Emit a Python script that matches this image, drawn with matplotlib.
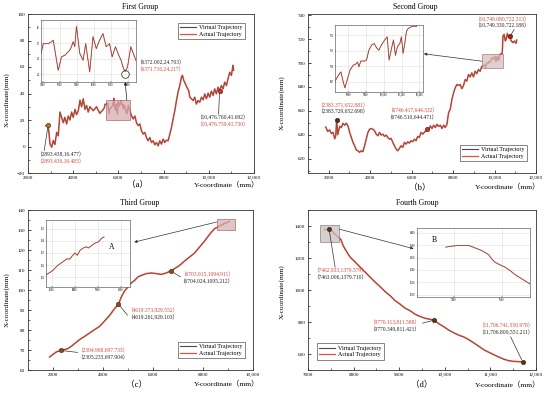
import matplotlib
matplotlib.use("Agg")
import matplotlib.pyplot as plt
from matplotlib.patches import Rectangle, ConnectionPatch
from matplotlib.lines import Line2D
from matplotlib.ticker import MultipleLocator, FuncFormatter

plt.rcParams['font.family'] = ['Liberation Serif', 'Noto Sans CJK SC']
plt.rcParams['axes.linewidth'] = 0.6

W, H = 550, 394
fig = plt.figure(figsize=(W / 100, H / 100), dpi=100)

# ---------------- DATA ----------------
# Panel (a) First Group  (Y-coordinate, X-coordinate)
a_y = [2783, 2870, 2893.438, 2973, 3050, 3120, 3190, 3270, 3340, 3415, 3490, 3560, 3630, 3710, 3780,
       3855, 3930, 4000, 4080, 4150, 4225, 4300, 4370, 4445, 4520, 4590, 4665, 4740, 4890, 5030,
       5180, 5330,
       5380, 5407, 5466, 5505, 5524, 5583, 5622, 5661, 5700, 5719, 5739, 5758, 5778, 5798, 5837,
       5876, 5907, 5954, 5993, 6032, 6071, 6110, 6149, 6188, 6219, 6258, 6297, 6324, 6352, 6372.002,
       6400, 6439, 6490,
       6580, 6654, 6730, 6800, 6875, 6950, 7020, 7095, 7170, 7240, 7315, 7390, 7465, 7540, 7610,
       7685, 7760, 7830, 7905, 7980, 8050, 8125, 8200, 8275, 8350, 8420, 8495, 8570, 8640, 8715,
       8790, 8835, 8890, 8965, 9040, 9110, 9160, 9230, 9305, 9380, 9450, 9525, 9600, 9675, 9750,
       9820, 9895, 9970, 10040, 10115, 10190, 10260, 10335, 10410, 10476.760, 10555, 10630, 10705,
       10780, 10850, 10925, 11000, 11070, 11100]
a_x = [15.7, 15.5, 16.477, 2.0, -0.5, 4.5, 1.5, 10.7, 8.0, 26.0, 22.0, 18.0, 22.0, 17.0, 23.0,
       20.0, 26.0, 22.0, 28.0, 24.0, 27.0, 35.0, 30.0, 36.0, 28.0, 31.0, 26.0, 30.0, 27.0, 30.0,
       25.0, 28.0,
       29.4, 31.9, 31.9, 32.4, 32.8, 25.0, 28.5, 28.9, 29.8, 30.2, 31.1, 32.4, 31.1, 36.4, 29.4,
       27.6, 31.9, 24.6, 33.7, 30.6, 32.8, 34.5, 31.1, 31.9, 28.5, 31.1, 28.9, 27.6, 25.5, 24.703,
       25.9, 31.1, 28.1,
       23.3, 20.8, 23.0, 18.0, 15.7, 17.0, 12.0, 9.4, 10.6, 6.8, 4.3, 6.8, 3.0, 4.3, 1.3,
       3.0, 0.5, 4.3, 1.8, 5.6, 3.0, 4.8, 4.3, 9.4, 14.4, 20.8, 27.0, 34.7, 41.0, 46.0,
       52.4, 53.7, 50.0, 47.3, 44.3, 42.3, 37.2, 36.0, 34.7, 37.2, 32.0, 34.7, 33.4, 37.2, 35.2,
       39.7, 36.0, 40.3, 37.2, 41.8, 38.5, 43.5, 39.7, 44.8, 41.692, 46.0, 43.5, 48.6,
       46.0, 51.1, 56.0, 53.7, 61.3, 57.5]

# Panel (b) Second Group
b_y = [1856, 1952, 2048, 2128, 2208, 2288, 2337, 2383.729, 2433, 2529, 2609, 2689, 2769, 2849,
       2929, 3010, 3090, 3170, 3250, 3330, 3410, 3490, 3570, 3650, 3730, 3810, 3891, 3971, 4051,
       4131, 4211, 4291, 4371, 4451, 4531, 4611, 4691, 4772, 4852, 4932, 5012, 5092, 5172, 5252,
       5332, 5412, 5492, 5572, 5652, 5733, 5813, 5893, 5973, 6053, 6133, 6213, 6293, 6373, 6453,
       6533, 6640, 6746.510, 6823, 6903, 6983, 7063, 7143, 7223, 7303, 7383, 7463, 7543, 7623,
       7703, 7783, 7863, 7943, 8023, 8103, 8183, 8263, 8343, 8423, 8503, 8583, 8663, 8743, 8823,
       8903, 8983, 9063, 9143, 9223, 9303, 9383,
       9457, 9487, 9517, 9543, 9562, 9592, 9618, 9655, 9682, 9704, 9719, 9741, 9779, 9805, 9831,
       9861, 9891, 9917, 9943, 9966, 9992, 10010, 10037, 10059, 10085, 10108, 10130, 10152, 10179,
       10197, 10216, 10235, 10253, 10272, 10291, 10328, 10365,
       10385, 10405, 10462, 10520, 10558, 10620, 10680, 10749.330, 10785, 10880, 10957, 11038, 11070]
b_x = [646.4, 642.7, 644.0, 641.0, 642.0, 636.6, 639.0, 652.698, 640.0, 647.0, 646.0, 649.6, 648.0,
       649.6, 647.4, 641.9, 637.7, 633.6, 630.8, 627.2, 626.6, 625.3, 626.6, 625.8, 630.8, 636.3,
       641.9, 644.6, 645.2, 644.6, 643.3, 640.5, 639.1, 641.9, 639.7, 640.5, 638.6, 639.7, 637.7,
       636.3, 636.9, 633.6, 630.8, 628.0, 626.6, 628.6, 630.8, 629.4, 633.6, 632.2, 634.1, 633.0,
       635.0, 634.1, 636.3, 635.0, 638.6, 637.7, 641.9, 640.5, 642.5, 644.471, 644.0, 647.4, 645.2,
       648.0, 646.0, 648.8, 646.9, 648.0, 645.2, 648.0, 646.0, 648.8, 658.5, 661.3, 669.6, 675.1,
       679.3, 682.0, 681.2, 682.0, 678.5, 681.2, 686.2, 684.9, 690.4, 688.4, 691.7, 688.4, 693.1,
       691.1, 694.5, 693.1, 697.2,
       697.3, 698.2, 698.9, 696.9, 695.8, 697.6, 699.2, 700.2, 700.4, 700.8, 699.9, 701.0, 701.0,
       701.2, 703.1, 704.1, 704.4, 703.6, 703.1, 703.9, 704.7, 705.1, 705.7, 701.2, 703.4, 705.1,
       702.1, 703.8, 704.4, 705.7, 702.5, 704.4, 706.7, 707.3, 707.5, 707.8, 707.7,
       713.0, 722.5, 724.0, 718.5, 719.8, 724.8, 721.0, 722.188, 719.2, 717.0, 718.4, 716.5, 719.2]

# Panel (c) Third Group
c_y = [1864, 1998, 2130, 2305.233, 2464, 2596, 2730, 2864, 3064, 3264, 3464, 3664, 3864, 4064,
       4264, 4464, 4619.261, 4732, 4864, 4996, 5130, 5264, 5396, 5530, 5730, 5930, 6130, 6330,
       6530, 6704.024, 6864, 7064, 7264, 7464, 7664, 7864, 8064, 8264, 8464,
       8550, 8585, 8614, 8643, 8672, 8701, 8730, 8759, 8773, 8802, 8822, 8845, 8874, 8898, 8918,
       8947, 8976, 9005, 9034, 9054]
c_x = [66.5, 67.8, 69.0, 69.7904, 70.2, 70.7, 71.8, 73.2, 75.2, 76.8, 78.5, 80.2, 81.8, 84.5,
       87.3, 90.7, 92.9103, 96.5, 99.5, 101.5, 103.5, 104.8, 106.5, 107.3, 108.2, 108.5, 108.2,
       107.8, 108.5, 109.5212, 110.7, 112.3, 114.5, 116.5, 118.5, 121.5, 124.5, 127.8, 130.7,
       131.2, 131.4, 131.6, 131.9, 132.1, 132.3, 132.5, 132.5, 132.7, 133.0, 132.8, 133.2, 133.4,
       133.5, 133.4, 133.6, 133.8, 133.9, 134.2, 134.3]

# Panel (d) Fourth Group
d_y = [7368, 7379, 7414, 7463.006, 7489, 7517, 7545, 7558, 7572, 7593, 7614, 7634, 7655, 7683,
       7717, 7777, 7850, 7923, 8033, 8143, 8253, 8363, 8473, 8582, 8692, 8802, 8912, 9022, 9132,
       9242, 9352, 9462, 9571, 9770.349, 9864, 9974, 10084, 10193, 10303, 10413, 10523, 10633,
       10743, 10853, 10963, 11073, 11183, 11292, 11402, 11512, 11622, 11706.800]
d_x = [1376.8, 1377.8, 1379.5, 1379.710, 1375.7, 1371.4, 1364.9, 1357.8, 1352.4, 1348.1, 1344.3,
       1338.9, 1332.4, 1325.4, 1317.3, 1274, 1238, 1206, 1175, 1143, 1112, 1080, 1049, 1021, 990,
       964, 933, 911, 886, 870, 848, 834, 823, 811.421, 790, 771, 750, 733, 718, 707, 690, 670,
       649, 627, 611, 596, 581, 568, 558, 554, 552, 551.211]

# highlighted points: (Y, X, black label, red label)
a_pts = [(2893.438, 16.477, "（2893.438,16.477）", "（2893.436,16.483）"),
         (10476.760, 41.692, "（10,476.760,41.692）", "（10,476.759,41.730）")]
a_dip = (6372.002, 24.703, "（6372.002,24.703）", "（6371.716,24.217）")
b_pts = [(2383.729, 652.698, "（2383.729,652.698）", "（2383.371,652.881）"),
         (6746.510, 644.471, "（6746.510,644.471）", "（6746.417,644.332）"),
         (10749.330, 722.188, "（10,749.330,722.188）", "（10,749.080,722.313）")]
c_pts = [(2305.233, 69.79, "（2305.233,697.904）", "（2304.968,697.733）"),
         (4619.261, 92.91, "（4619.261,929.103）", "（4619.373,929.552）"),
         (6704.024, 109.52, "（6704.024,1095.212）", "（6703.915,1094.911）")]
d_pts = [(7463.006, 1379.710, "（7463.006,1379.710）", "（7462.933,1379.579）"),
         (9770.349, 811.421, "（9770.349,811.421）", "（9770.113,811.588）"),
         (11706.800, 551.211, "（11,706.800,551.211）", "（11,706.741,550.978）")]

titles = ["First Group", "Second Group", "Third Group", "Fourth Group"]
panel_tags = ["（a）", "（b）", "（c）", "（d）"]
xlabel = "Y-coordinate（mm）"
ylabel = "X-coordinate(mm)"
legend_labels = ["Virtual Trajectory", "Actual Trajectory"]

# ---------------- STYLE ----------------
C_VIRT = '#4a4a4a'
C_ACT = '#e2503e'
C_RED_TXT = '#d9443a'
C_BLK_TXT = '#222222'


def fx(px):
    return px / W


def fy(py):
    return 1 - py / H


def box(l, t, r, b):
    return [fx(l), fy(b), (r - l) / W, (b - t) / H]


def fmt_thousands(v, pos):
    v = int(round(v))
    return f"{v:,}" if v >= 10000 else f"{v}"


def style_axes(ax, xlim, ylim, xmaj, xmin, ymaj, ymin):
    ax.set_xlim(*xlim)
    ax.set_ylim(*ylim)
    ax.xaxis.set_major_locator(MultipleLocator(xmaj))
    ax.xaxis.set_minor_locator(MultipleLocator(xmin))
    ax.yaxis.set_major_locator(MultipleLocator(ymaj))
    ax.yaxis.set_minor_locator(MultipleLocator(ymin))
    ax.xaxis.set_major_formatter(FuncFormatter(fmt_thousands))
    ax.tick_params(which='both', direction='in', labelsize=3.6, pad=2)
    ax.tick_params(which='major', length=2, width=0.5)
    ax.tick_params(which='minor', length=1.2, width=0.4)
    for s in ax.spines.values():
        s.set_color('#333333')


def draw_traj(ax, y, x, lw_act=1.15, lw_virt=0.4):
    ax.plot(y, x, color=C_ACT, lw=lw_act, solid_joinstyle='round', zorder=2)
    ax.plot(y, x, color=C_VIRT, lw=lw_virt, alpha=0.75, zorder=3)


def style_inset(ax, xlim, ylim, xticks, yticks):
    ax.set_xlim(*xlim)
    ax.set_ylim(*ylim)
    ax.set_xticks(xticks)
    ax.set_yticks(yticks)
    ax.xaxis.set_major_formatter(FuncFormatter(fmt_thousands))
    ax.tick_params(direction='in', labelsize=2.0, length=1, width=0.3, pad=1)
    ax.grid(True, color='#dddddd', lw=0.4)
    for s in ax.spines.values():
        s.set_color('#666666')
        s.set_linewidth(0.5)


def legend(ax, loc, anchor):
    h = [Line2D([], [], color=C_VIRT, lw=0.8), Line2D([], [], color=C_ACT, lw=0.9)]
    lg = ax.legend(h, legend_labels, loc=loc, bbox_to_anchor=anchor, fontsize=4.3,
                   handlelength=2.6, handletextpad=0.6, borderpad=0.4, labelspacing=0.25,
                   fancybox=False, framealpha=1, edgecolor='#555555')
    lg.get_frame().set_linewidth(0.5)


def pair_label(ax, y, x, blk, red, off_px, red_first, line_to=None):
    k = 0.72
    dx, dy = off_px
    order = [(red, C_RED_TXT), (blk, C_BLK_TXT)] if red_first else [(blk, C_BLK_TXT), (red, C_RED_TXT)]
    for i, (t, c) in enumerate(order):
        ax.annotate(t, xy=(y, x), xytext=(dx * k, -(dy - 3.3 + 6.8 * i) * k),
                    textcoords='offset points', ha='center', va='center', fontsize=4.0,
                    color=c, zorder=6, annotation_clip=False)
    if line_to is not None:
        lx, ly = line_to
        ax.annotate('', xy=(y, x), xytext=(lx * k, -ly * k), textcoords='offset points',
                    arrowprops=dict(arrowstyle='-', color='#333333', lw=0.5, shrinkA=0, shrinkB=1.5),
                    zorder=5, annotation_clip=False)


def marker(ax, y, x, color):
    ax.plot([y], [x], 'o', ms=3.2, color=color, mec='#4a2a10', mew=0.4, zorder=7)


def common(ax, idx, tag_px, xl_px, title_px, yl_px):
    fig.text(fx(title_px[0]), fy(title_px[1]), titles[idx], ha='center', va='center', fontsize=5.6)
    fig.text(fx(tag_px[0]), fy(tag_px[1]), panel_tags[idx], ha='center', va='center', fontsize=6.2)
    fig.text(fx(xl_px[0]), fy(xl_px[1]), xlabel, ha='center', va='center', fontsize=5.4)
    fig.text(fx(yl_px[0]), fy(yl_px[1]), ylabel, ha='center', va='center', fontsize=5.2, rotation=90)


def rect(ax, x0, x1, y0, y1, fc, ec):
    ax.add_patch(Rectangle((x0, y0), x1 - x0, y1 - y0, facecolor=fc, edgecolor=ec,
                           lw=0.6, alpha=0.75, zorder=4))


# ---------------- PANEL A ----------------
axa = fig.add_axes(box(28, 14, 254, 173))
style_axes(axa, (2000, 12000), (-20, 100), 2000, 1000, 20, 10)
draw_traj(axa, a_y, a_x)
rect(axa, 5450, 6530, 20, 35, '#d8aeb0', '#a06060')
marker(axa, a_pts[0][0], a_pts[0][1], '#b8741a')
marker(axa, a_pts[1][0], a_pts[1][1], '#cc3030')
pair_label(axa, *a_pts[0], off_px=(12, 33), red_first=False, line_to=(-4, 26))
pair_label(axa, *a_pts[1], off_px=(3, 30), red_first=False, line_to=(-1, 23))
legend(axa, 'upper right', (0.975, 0.965))
common(axa, 0, (138, 185), (227, 185), (140, 7), (7, 100))

ia = fig.add_axes(box(41, 20, 136, 82))
draw_traj(ia, a_y, a_x, lw_act=0.7, lw_virt=0.35)
style_inset(ia, (5380, 6500), (22, 38), [5400, 5600, 5800, 6000, 6200, 6400], [24, 28, 32, 36])
ia.plot([a_dip[0]], [a_dip[1] - 0.6], 'o', ms=5.5, mfc='none', mec='#222222', mew=0.5, zorder=6)
ia.annotate(a_dip[2], xy=(a_dip[0], a_dip[1]), xytext=(35 * 0.72, 6.5),
            textcoords='offset points', ha='center', va='center', fontsize=4.0, color=C_BLK_TXT,
            annotation_clip=False)
ia.annotate(a_dip[3], xy=(a_dip[0], a_dip[1]), xytext=(35 * 0.72, 1.3),
            textcoords='offset points', ha='center', va='center', fontsize=4.0, color=C_RED_TXT,
            annotation_clip=False)
con = ConnectionPatch(xyA=(a_dip[0], 35), coordsA=axa.transData,
                      xyB=(a_dip[0], 22), coordsB=ia.transData,
                      arrowstyle='-|>', mutation_scale=4, color='#222222', lw=0.5)
fig.add_artist(con)

# ---------------- PANEL B ----------------
axb = fig.add_axes(box(308, 14, 536, 173))
style_axes(axb, (1000, 12000), (608, 741), 2000, 1000, 20, 10)
draw_traj(axb, b_y, b_x)
rect(axb, 9400, 10420, 695.5, 707.5, '#d8c0c0', '#a07070')
marker(axb, b_pts[0][0], b_pts[0][1], '#4a3010')
marker(axb, b_pts[1][0], b_pts[1][1], '#d03020')
marker(axb, b_pts[2][0], b_pts[2][1], '#a02020')
pair_label(axb, *b_pts[0], off_px=(6, -11), red_first=True)
pair_label(axb, *b_pts[1], off_px=(-15, -15), red_first=True)
pair_label(axb, *b_pts[2], off_px=(-8, -14), red_first=True, line_to=(4, -7))
legend(axb, 'lower right', (0.975, 0.055))
common(axb, 1, (420, 188), (508, 187), (415, 7), (282, 103))

ib = fig.add_axes(box(335, 25, 423, 92))
draw_traj(ib, b_y, b_x, lw_act=0.7, lw_virt=0.35)
style_inset(ib, (9450, 10440), (695, 708), [9600, 9800, 10000, 10200, 10400], [697, 700, 703, 706])
con = ConnectionPatch(xyA=(9400, 701.5), coordsA=axb.transData,
                      xyB=(1.01, 0.57), coordsB=ib.transAxes,
                      arrowstyle='-|>', mutation_scale=4, color='#333333', lw=0.5)
fig.add_artist(con)

# ---------------- PANEL C ----------------
axc = fig.add_axes(box(28, 210, 253, 370))
style_axes(axc, (1000, 10000), (60, 140), 2000, 1000, 10, 5)
draw_traj(axc, c_y, c_x)
rect(axc, 8550, 9280, 130.2, 135.7, '#d8b0b0', '#a06060')
for p in c_pts:
    marker(axc, p[0], p[1], '#8a4a1a')
pair_label(axc, *c_pts[0], off_px=(42, 4), red_first=True, line_to=(17, 2))
pair_label(axc, *c_pts[1], off_px=(34, 10), red_first=True, line_to=(9, 11))
pair_label(axc, *c_pts[2], off_px=(36, 7), red_first=True, line_to=(10, 6))
legend(axc, 'lower right', (0.978, 0.055))
common(axc, 2, (137, 385), (227, 384), (140, 203), (7, 300))

ic = fig.add_axes(box(46, 220, 130, 287))
draw_traj(ic, c_y, c_x, lw_act=0.7, lw_virt=0.35)
style_inset(ic, (8550, 9280), (130.2, 135.7), [8600, 8800, 9000, 9200], [131, 132, 133, 134, 135])
ic.text(0.78, 0.6, "A", transform=ic.transAxes, fontsize=5.5, ha='center', va='center')
con = ConnectionPatch(xyA=(8550, 134.0), coordsA=axc.transData,
                      xyB=(1.05, 0.67), coordsB=ic.transAxes,
                      arrowstyle='-|>', mutation_scale=4, color='#333333', lw=0.5)
fig.add_artist(con)

# ---------------- PANEL D ----------------
axd = fig.add_axes(box(308, 210, 536, 370))
style_axes(axd, (7000, 12000), (500, 1500), 1000, 500, 200, 100)
draw_traj(axd, d_y, d_x)
rect(axd, 7260, 7690, 1300, 1407, '#c8c0c0', '#907070')
for p in d_pts:
    marker(axd, p[0], p[1], '#5a3410')
pair_label(axd, *d_pts[0], off_px=(11, 45), red_first=True, line_to=(6, 38))
pair_label(axd, *d_pts[1], off_px=(-40, 6), red_first=True, line_to=(-12, 3))
pair_label(axd, *d_pts[2], off_px=(-17, -33), red_first=True, line_to=(-12, -25))
legend(axd, 'lower left', (0.025, 0.045))
common(axd, 3, (422, 385), (508, 385), (417, 203), (282, 292))

idd = fig.add_axes(box(417, 228, 530, 297))
draw_traj(idd, d_y, d_x, lw_act=0.7, lw_virt=0.35)
style_inset(idd, (7248, 7717), (1296, 1408), [7400, 7600], [1300, 1320, 1340, 1360, 1380, 1400])
idd.text(0.15, 0.83, "B", transform=idd.transAxes, fontsize=5.5, ha='center', va='center')
con = ConnectionPatch(xyA=(7690, 1380), coordsA=axd.transData,
                      xyB=(-0.03, 0.70), coordsB=idd.transAxes,
                      arrowstyle='-|>', mutation_scale=4, color='#333333', lw=0.5)
fig.add_artist(con)

fig.savefig("out.png", dpi=100)
